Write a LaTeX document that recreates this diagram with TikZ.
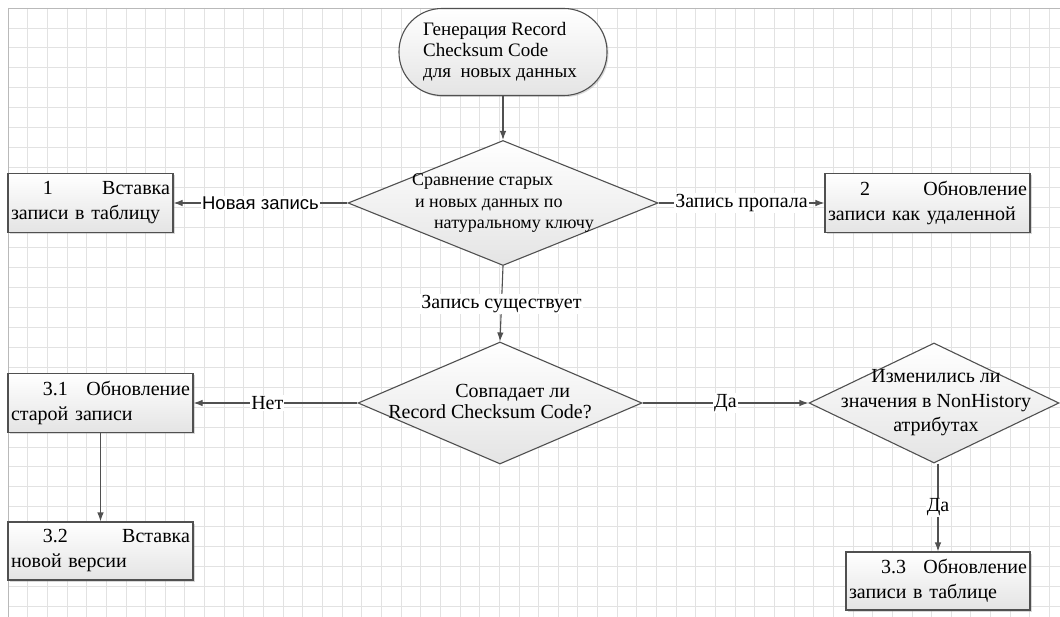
\documentclass[tikz,border=0pt]{standalone}
\usepackage{fontspec}
\setmainfont{Liberation Serif}
\setsansfont{Liberation Sans}
\usetikzlibrary{shapes.geometric, arrows.meta, shadows}

\definecolor{linegray}{HTML}{505050}
\definecolor{gridgray}{HTML}{E2E2E2}
\definecolor{fillgray}{HTML}{E4E4E4}

\begin{document}
\begin{tikzpicture}[
    x=1pt, y=-1pt, >={Latex[length=9pt,width=6.5pt]}, line width=1.1pt,
    shadowed/.style={drop shadow={shadow xshift=1.5pt, shadow yshift=-1.5pt, opacity=0.3}},
    terminal/.style={rectangle, rounded corners=43pt, draw=linegray, top color=white, bottom color=fillgray,
      shadowed, minimum width=208pt, minimum height=87pt},
    decision/.style={diamond, draw=linegray, top color=white, bottom color=fillgray, inner sep=0pt},
    action/.style={rectangle, draw=linegray, top color=white, bottom color=fillgray, shadowed,
      inner xsep=3pt, inner ysep=0pt, minimum height=59pt, align=left, text width=#1,
      font=\fontsize{20}{25}\selectfont},
    dtext/.style={font=\fontsize{20}{21}\selectfont},
    flow/.style={->, draw=linegray},
    elabel/.style={fill=white, inner sep=1pt, font=\fontsize{20}{24}\selectfont}
  ]
  \useasboundingbox (0,0) rectangle (1060,617);
  \fill[white] (0,0) rectangle (1060,617);

  % grid paper
  \foreach \i in {0,...,53}
    \draw[gridgray, line width=0.8pt] ({8+19.65*\i},8) -- ({8+19.65*\i},617);
  \foreach \j in {0,...,30}
    \draw[gridgray, line width=0.8pt] (8,{8+19.95*\j}) -- (1060,{8+19.95*\j});
  \draw[gray!55, line width=0.8pt] (8,617) -- (8,8) -- (1060,8);

  \node[terminal, label={[font=\fontsize{19}{21}\selectfont, align=left, xshift=-3pt]center:{Генерация Record\\Checksum Code\\для\ \ новых данных}}] (gen) at (503,52) {};

  \node[decision, minimum width=310pt, minimum height=125pt,
    label={[font=\fontsize{18}{21.5}\selectfont, align=left]center:{Сравнение старых\\\hspace*{3pt}и новых данных по\\\hspace*{22pt}натуральному ключу}}] (cmp) at (503,203) {};
  \node[action=159pt] (ins) at (90.5,203) {\hspace*{32pt}1\hfill Вставка\\записи в таблицу};
  \node[action=199pt] (upd) at (927.5,203) {\hspace*{32pt}2\hfill Обновление\\записи как удаленной};

  \node[decision, minimum width=284pt, minimum height=122pt,
    label={[dtext, align=left, xshift=-10pt, yshift=1pt]center:{\hspace*{67pt}Совпадает ли\\Record Checksum Code?}}] (chk) at (500,403) {};
  \node[action=179pt] (old) at (100.5,403) {\hspace*{32pt}3.1\hfill Обновление\\старой записи};
  \node[action=179pt, minimum height=58pt] (newv) at (100.5,551) {\hspace*{32pt}3.2\hfill Вставка\\новой версии};

  \node[decision, minimum width=250pt, minimum height=120pt,
    label={[font=\fontsize{20}{24.5}\selectfont, align=center, xshift=2pt]center:{Изменились ли\\значения в NonHistory\\атрибутах}}] (nh) at (934,403) {};
  \node[action=178pt, minimum height=58pt] (tbl) at (938,581) {\hspace*{32pt}3.3\hfill Обновление\\записи в таблице};

  \draw[flow] (gen) -- (cmp);
  \draw[flow] (cmp.west) -- node[elabel, font=\sffamily\fontsize{18.5}{22}\selectfont] {Новая запись} (ins.east);
  \draw[flow] (cmp.east) -- node[elabel] {Запись пропала} (upd.west);
  \draw[flow] (cmp.south) -- node[elabel] {Запись существует} (chk.north);
  \draw[flow] (chk.west) -- node[elabel, pos=0.55] {Нет} (old.east);
  \draw[flow] (old.south -| newv.north) -- (newv.north);
  \draw[flow] (chk.east) -- node[elabel] {Да} (nh.west);
  \draw[flow] (nh.south -| tbl.north) -- node[elabel] {Да} (tbl.north);
\end{tikzpicture}
\end{document}
